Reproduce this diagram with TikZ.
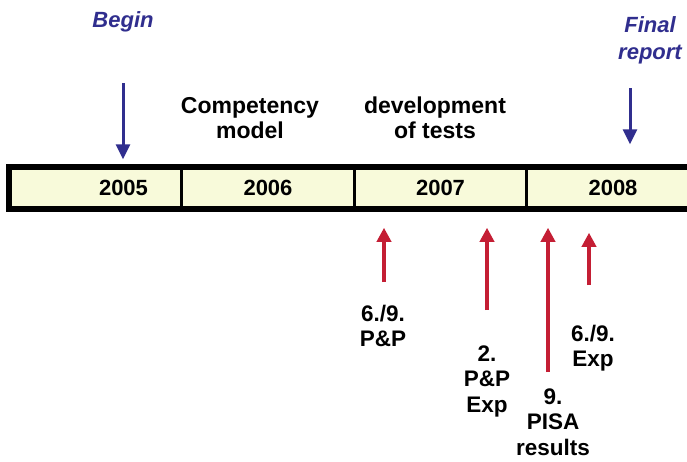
\documentclass[tikz,border=0pt]{standalone}
\usepackage{fontspec}
\setmainfont{Liberation Sans}
\usetikzlibrary{arrows.meta, positioning}
\definecolor{markblue}{RGB}{48,46,142}
\definecolor{markred}{RGB}{196,30,52}
\definecolor{cellfill}{RGB}{248,250,218}
\tikzset{
    yearcell/.style={rectangle, fill=cellfill, draw=black, line width=1.5pt, minimum height=40pt, minimum width=171pt, inner sep=0pt, font=\fontsize{22}{25}\selectfont\bfseries},
    yeartext/.style={inner sep=0pt, font=\fontsize{22}{25}\selectfont\bfseries},
    marklabel/.style={align=center, text=markblue, font=\fontsize{22}{27}\selectfont\bfseries\itshape},
    phaselabel/.style={align=center, font=\fontsize{23}{25}\selectfont\bfseries},
    testlabel/.style={align=center, font=\fontsize{22.5}{25.5}\selectfont\bfseries},
    markarrow/.style={-{Triangle[length=15pt,width=14pt]}, line width=3pt, draw=markblue},
    testarrow/.style={-{Triangle[length=14pt,width=14pt]}, line width=4pt, draw=markred}
}

\begin{document}
\begin{tikzpicture}[x=1pt, y=-1pt]
    \clip (0,0) rectangle (687,461);
    \fill[white] (0,0) rectangle (687,461);

    % Time bar
    \node[yearcell, label={[yeartext, xshift=28pt]center:2005}] (y2005) at (95.5,188) {};
    \node[yearcell, right=0pt of y2005] (y2006) {2006};
    \node[yearcell, right=0pt of y2006] (y2007) {2007};
    \node[yearcell, right=0pt of y2007] (y2008) {2008};
    \draw[line width=6pt] (y2005.north west) rectangle (y2008.south east);

    % Milestones
    \node[marklabel] (begin) at (123,22) {Begin};
    \node[marklabel] (final) at (650,40) {Final\\report};
    \node[phaselabel] (model) at (250,118) {Competency\\model};
    \node[phaselabel] (tests) at (435,118) {development\\of tests};
    \coordinate (beginfrom) at (123,83);
    \coordinate (finalfrom) at (630,88);
    \draw[markarrow] (beginfrom) -- ([yshift=8pt]beginfrom |- y2005.north);
    \draw[markarrow] (finalfrom) -- ([yshift=23pt]finalfrom |- y2008.north);

    % Test rounds
    \node[testlabel] (pp69) at (383,326) {6./9.\\P\&P};
    \node[testlabel] (pp2) at (487,381) {2.\\P\&P\\Exp};
    \node[testlabel] (pisa) at (553,422) {9.\\PISA\\results};
    \node[testlabel] (exp69) at (593,348) {6./9.\\Exp};
    \coordinate (ppfrom) at (384,282);
    \coordinate (pp2from) at (487,310);
    \coordinate (pisafrom) at (548,372);
    \coordinate (expfrom) at (589,285);
    \draw[testarrow] (ppfrom) -- ([yshift=-19pt]ppfrom |- y2007.south);
    \draw[testarrow] (pp2from) -- ([yshift=-19pt]pp2from |- y2007.south);
    \draw[testarrow] (pisafrom) -- ([yshift=-19pt]pisafrom |- y2008.south);
    \draw[testarrow] (expfrom) -- ([yshift=-24pt]expfrom |- y2008.south);
\end{tikzpicture}
\end{document}
